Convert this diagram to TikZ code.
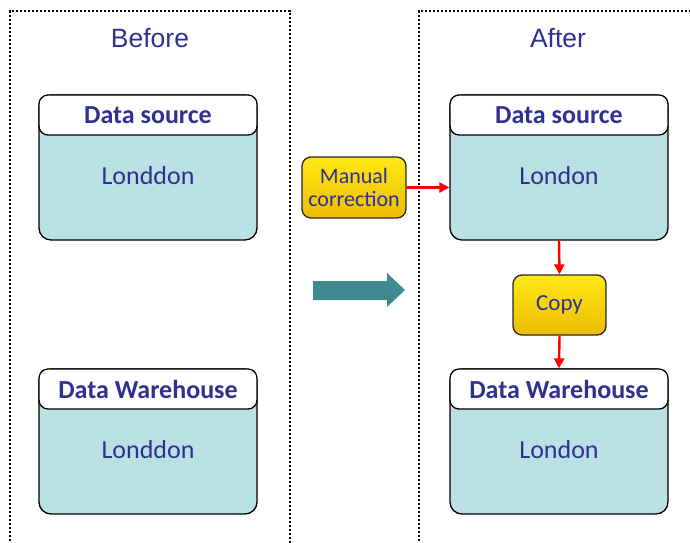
\documentclass[tikz,border=0pt]{standalone}
\usepackage{fontspec}
\setmainfont{Carlito}
\newfontfamily\titlefont{Liberation Sans}
\usetikzlibrary{arrows.meta}
\definecolor{txtblue}{RGB}{46,49,146}
\definecolor{bodyteal}{RGB}{185,224,226}
\definecolor{bigarrow}{RGB}{62,138,142}
\definecolor{goldtop}{RGB}{255,232,20}
\definecolor{goldbot}{RGB}{236,188,0}
\tikzset{
  frame/.style={line width=2.4pt, dash pattern=on 2.4pt off 1.6pt},
  bodybox/.style={draw=black, line width=1.3pt, fill=bodyteal, rounded corners=12pt, minimum width=218pt, minimum height=145pt, inner sep=0pt},
  headbox/.style={draw=black, line width=1.3pt, fill=white, rounded corners=9pt, minimum width=218pt, minimum height=40pt, inner sep=0pt, text=txtblue, font=\fontsize{26}{28}\selectfont\bfseries},
  valtext/.style={text=txtblue, font=\fontsize{26}{28}\selectfont},
  goldbox/.style={draw=black!85, line width=1.3pt, top color=goldtop, bottom color=goldbot, rounded corners=9pt, inner sep=0pt, text=txtblue, align=center},
  titletext/.style={text=txtblue, font=\titlefont\fontsize{26.5}{28}\selectfont},
  redarrow/.style={draw=red, line width=2.4pt, -{Triangle[length=10pt,width=10pt]}}
}
\begin{document}
\begin{tikzpicture}[x=1pt,y=-1pt]
\useasboundingbox (0,0) rectangle (690,542);
% frames
\draw[frame] (10,545) -- (10,11) -- (290,11) -- (290,545);
\draw[frame] (419,545) -- (419,11) -- (695,11);
\node[titletext] (before) at (150,38) {Before};
\node[titletext] (after) at (558,38) {After};
% left boxes
\node[bodybox] (ds1) at (148,167.5) {};
\node[headbox] (ds1h) at (148,115) {Data source};
\node[valtext] (ds1v) at (148,176) {Londdon};
\node[bodybox] (dw1) at (148,441.5) {};
\node[headbox] (dw1h) at (148,389) {Data Warehouse};
\node[valtext] (dw1v) at (148,450) {Londdon};
% right boxes
\node[bodybox] (ds2) at (559,167.5) {};
\node[headbox] (ds2h) at (559,115) {Data source};
\node[valtext] (ds2v) at (559,176) {London};
\node[bodybox] (dw2) at (559,441.5) {};
\node[headbox] (dw2h) at (559,389) {Data Warehouse};
\node[valtext] (dw2v) at (559,450) {London};
% gold boxes
\node[goldbox, minimum width=104pt, minimum height=61pt, font=\fontsize{22}{23}\selectfont] (manual) at (354,187.5) {Manual\\correction};
\node[goldbox, minimum width=93pt, minimum height=60pt, font=\fontsize{23}{25}\selectfont] (copy) at (559.5,305) {Copy};
% red arrows
\draw[redarrow] (manual.east) -- (manual.east -| ds2.west);
\draw[redarrow] (ds2.south) -- (copy.north);
\draw[redarrow] (copy.south) -- (dw2h.north);
% big teal arrow
\fill[bigarrow] (313,281) -- (387,281) -- (387,273) -- (405,290) -- (387,307) -- (387,300) -- (313,300) -- cycle;
\end{tikzpicture}
\end{document}
